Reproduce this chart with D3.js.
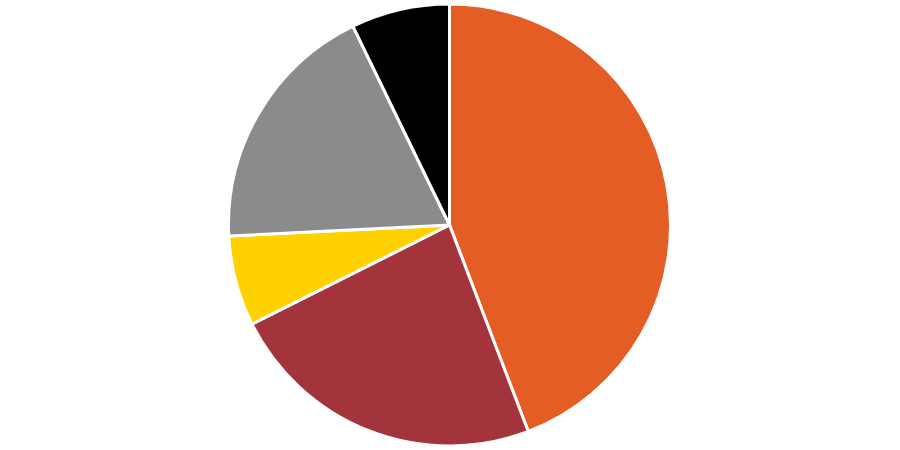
<!DOCTYPE html>
<html><head><meta charset="utf-8">
<script src="https://cdn.jsdelivr.net/npm/d3@7"></script>
<style>html,body{margin:0;padding:0;background:#fff;}</style>
</head><body>
<svg id="chart" width="900" height="450"></svg>
<script>
const categories = ["A", "B", "C", "D", "E"];
const values = [44.2, 23.4, 6.6, 18.6, 7.2];
const colors = ["#E45D25", "#A4343B", "#FFD100", "#898B8D", "#000000"];

const svg = d3.select("#chart");
const cx = 449.5, cy = 225, r = 221;
const pie = d3.pie().sort(null).value(d => d.v);
const arc = d3.arc().innerRadius(0).outerRadius(r);
const data = categories.map((c, i) => ({c, v: values[i]}));
const color = d3.scaleOrdinal().domain(categories).range(colors);
svg.append("g").attr("transform", `translate(${cx},${cy})`)
  .selectAll("path").data(pie(data)).join("path")
  .attr("d", arc)
  .attr("fill", d => color(d.data.c))
  .attr("stroke", "#fff")
  .attr("stroke-width", 3)
  .attr("stroke-linejoin", "miter");
</script>
</body></html>
